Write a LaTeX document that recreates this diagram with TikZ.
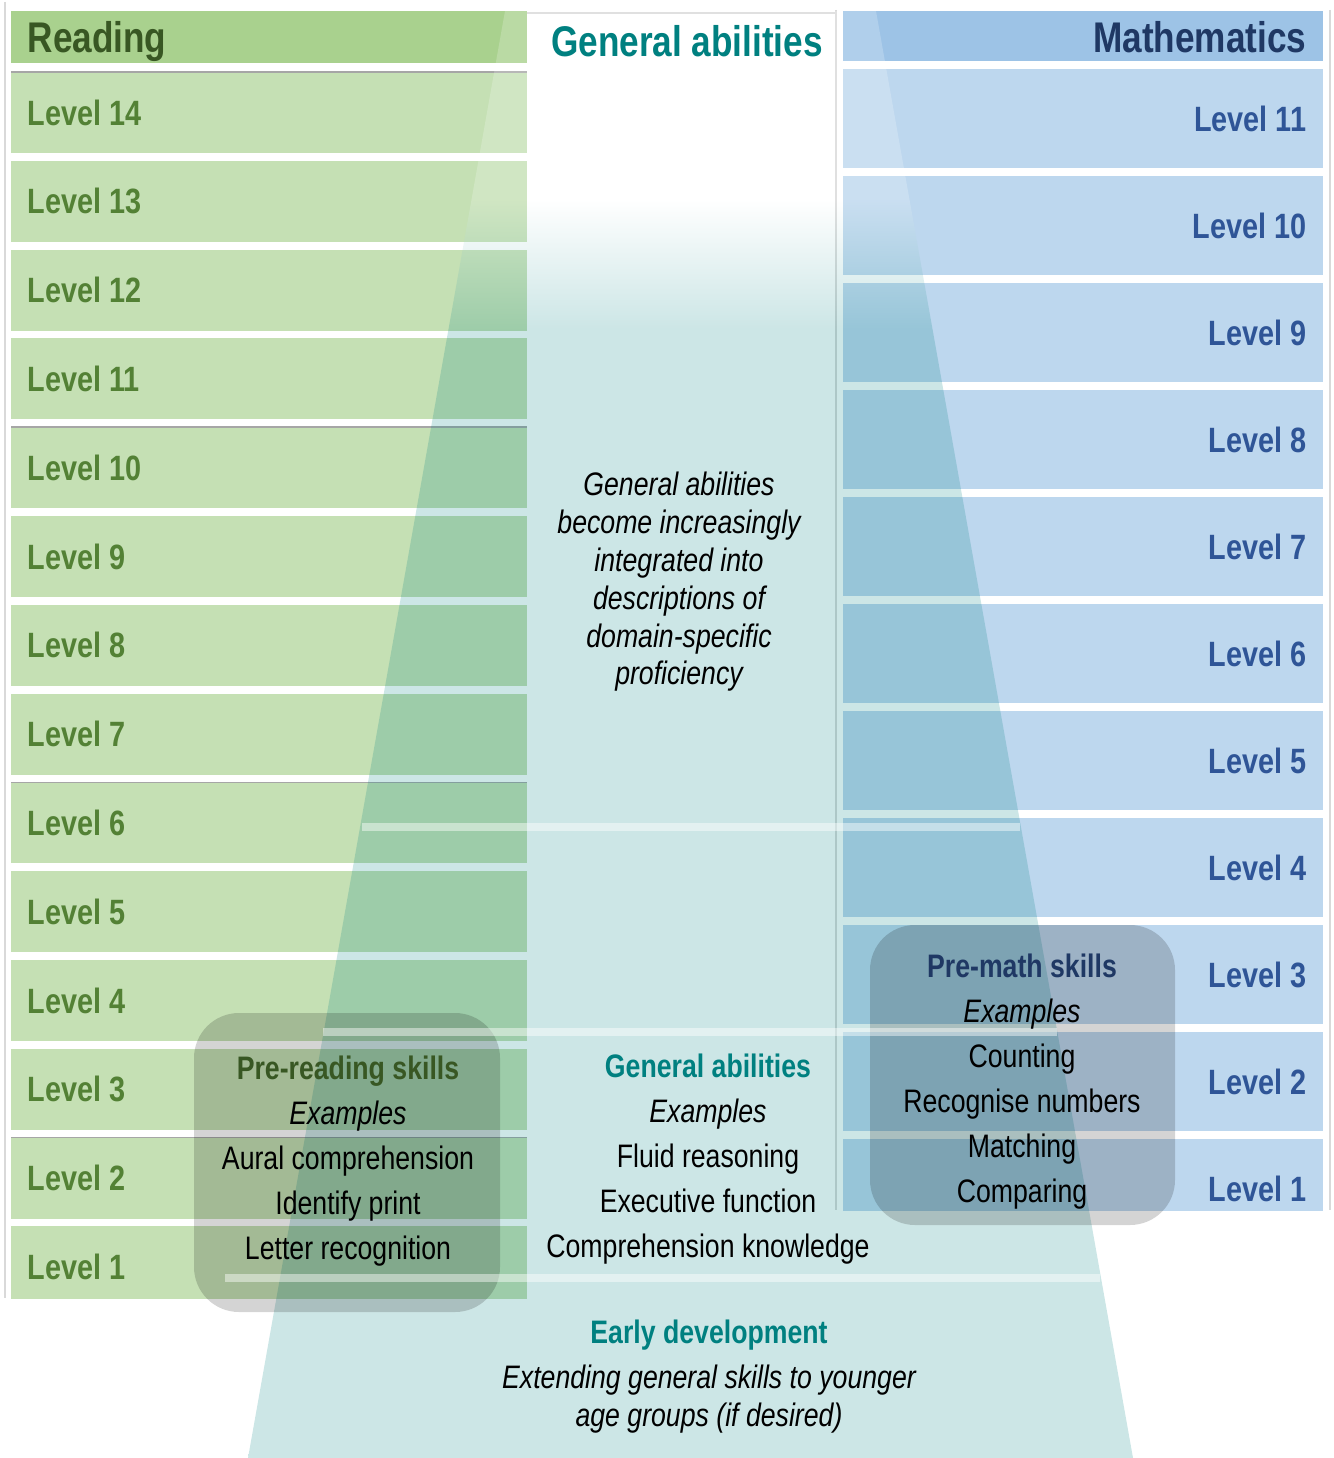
\documentclass[tikz,border=0pt]{standalone}
\usepackage{fontspec}
\setmainfont{Liberation Sans}[FakeStretch=0.82]

\definecolor{readhead}{HTML}{A9D18E}
\definecolor{readrow}{HTML}{C5E0B4}
\definecolor{readtitle}{HTML}{385723}
\definecolor{readlevel}{HTML}{538135}
\definecolor{mathhead}{HTML}{9DC3E6}
\definecolor{mathrow}{HTML}{BDD7EE}
\definecolor{mathtitle}{HTML}{1F3864}
\definecolor{mathlevel}{HTML}{2F5597}
\definecolor{gateal}{HTML}{008080}

\pgfdeclareverticalshading{gafade}{100bp}{color(0bp)=(gateal); color(64bp)=(gateal); color(68.5bp)=(white); color(100bp)=(white)}

\tikzset{
	levelbox/.style={inner sep=0pt, font=\fontsize{10}{12}\selectfont\bfseries},
	headbox/.style={inner sep=0pt, font=\fontsize{12.2}{14}\selectfont\bfseries},
	textbox/.style={inner sep=0pt, align=center, font=\fontsize{9.25}{12.8}\selectfont},
	tier/.style={draw=white, draw opacity=0.45, line width=2.3pt},
	skillbox/.style={fill=black, fill opacity=0.17, rounded corners=0.45cm},
	thinline/.style={draw=black!15, line width=0.4pt}
}

\begin{document}
\begin{tikzpicture}[x=0.01cm, y=-0.01cm]
	\useasboundingbox (0,0) rectangle (1333,1458);

	\begin{scope}
		\clip (0,0) rectangle (1333,1298);
		\fill[readhead] (11,11) rectangle (527,63);
		\foreach \n [count=\i from 0] in {14,13,...,1} {
			\pgfmathsetmacro\rtop{72+\i*88.8}
			\fill[readrow] (11,\rtop) rectangle (527,\rtop+81);
			\node[levelbox, text=readlevel, anchor=west] (read\n) at (27,\rtop+40.5) {Level \n};
		}
		\foreach \i in {0,4,8,12}
			\draw[black!35, line width=0.5pt] (11,72+\i*88.8) -- (527,72+\i*88.8);
	\end{scope}

	\begin{scope}
		\clip (0,0) rectangle (1333,1210);
		\fill[mathhead] (843,11) rectangle (1323,61);
		\foreach \n [count=\i from 0] in {11,10,...,1} {
			\pgfmathsetmacro\mtop{69+\i*107}
			\fill[mathrow] (843,\mtop) rectangle (1323,\mtop+99);
			\node[levelbox, text=mathlevel, anchor=east] (math\n) at (1307,\mtop+49.5) {Level \n};
		}
	\end{scope}

	\draw[thinline] (5,2) -- (5,1298);
	\draw[thinline] (1330,10) -- (1330,1210);
	\draw[thinline] (836,10) -- (836,1210);
	\draw[thinline] (527,13) -- (836,13);

	\shade[shading=gafade, opacity=0.2] (505,11) -- (876,11) -- (1133,1458) -- (248,1458) -- cycle;

	\fill[skillbox] (194,1013) rectangle (500,1312);
	\fill[skillbox] (870,925) rectangle (1175,1225);

	\draw[tier] (362,827) -- (1020,827);
	\draw[tier] (323,1032) -- (1057,1032);
	\draw[tier] (225,1278) -- (1100,1278);

	\node[headbox, text=readtitle, anchor=base west] (reading) at (27,53) {Reading};
	\node[headbox, text=mathtitle, anchor=base east] (maths) at (1307,53) {Mathematics};
	\node[headbox, text=gateal, anchor=base] (general) at (687,57) {General abilities};

	\node[textbox, font=\fontsize{9.25}{10.75}\selectfont\itshape] (integrated) at (679,582) {General abilities\\become increasingly\\integrated into\\descriptions of\\domain-specific\\proficiency};

	\node[textbox] (prereading) at (348,1161) {\textcolor{readtitle}{\bfseries Pre-reading skills}\\\textit{Examples}\\Aural comprehension\\Identify print\\Letter recognition};
	\node[textbox] (examples) at (708,1159) {\textcolor{gateal}{\bfseries General abilities}\\\textit{Examples}\\Fluid reasoning\\Executive function\\Comprehension knowledge};
	\node[textbox] (premath) at (1022,1082) {\textcolor{mathtitle}{\bfseries Pre-math skills}\\\textit{Examples}\\Counting\\Recognise numbers\\Matching\\Comparing};

	\node[textbox, text=gateal, font=\fontsize{9.25}{12.8}\selectfont\bfseries, anchor=base] (early) at (709,1343) {Early development};
	\node[textbox, font=\fontsize{9.25}{10.8}\selectfont\itshape] (younger) at (709,1399) {Extending general skills to younger\\age groups (if desired)};
\end{tikzpicture}
\end{document}
